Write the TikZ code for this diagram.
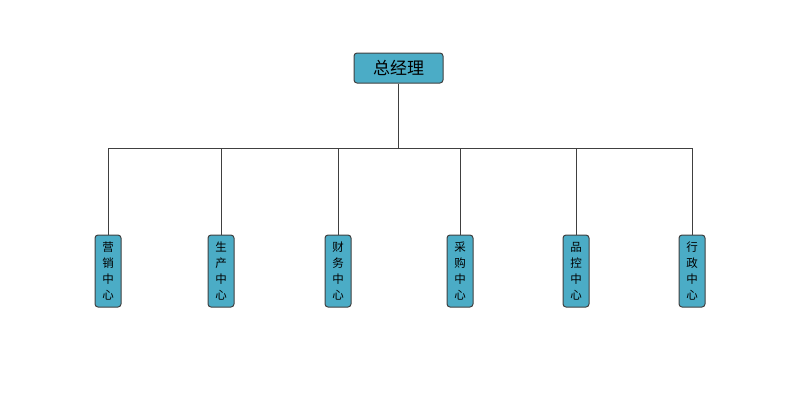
\documentclass[tikz,border=0pt]{standalone}
\usepackage{fontspec}
\newfontfamily\cjk{Noto Sans CJK SC}
\definecolor{boxfill}{HTML}{4BACC6}
\definecolor{edge}{HTML}{404040}
\begin{document}
\begin{tikzpicture}[x=1pt,y=-1pt,
  topbox/.style={draw=edge,line width=1pt,fill=boxfill,rounded corners=3pt,minimum width=89pt,minimum height=30pt,inner sep=0pt,font=\cjk\fontsize{17}{17}\selectfont},
  childbox/.style={draw=edge,line width=1pt,fill=boxfill,rounded corners=3pt,minimum width=26pt,minimum height=72pt,inner sep=0pt,align=center,font=\cjk\fontsize{11.5}{16}\selectfont},
  conn/.style={draw=edge,line width=0.8pt}]
\useasboundingbox (0,0) rectangle (800,400);
\node[topbox] (top) at (398.5,68) {总经理};
\coordinate (hub) at (398.5,148);
\foreach \n/\x/\t in {a/108/{营\\销\\中\\心},b/221/{生\\产\\中\\心},c/338/{财\\务\\中\\心},d/460/{采\\购\\中\\心},e/576/{品\\控\\中\\心},f/692/{行\\政\\中\\心}}{
  \node[childbox] (\n) at (\x,271) {\t};
  \coordinate (\n t) at (\x,148);
  \draw[conn] (\n t) -- (\n.north);
}
\draw[conn] (top.south) -- (hub);
\draw[conn] (at) -- (ft);
\end{tikzpicture}
\end{document}
